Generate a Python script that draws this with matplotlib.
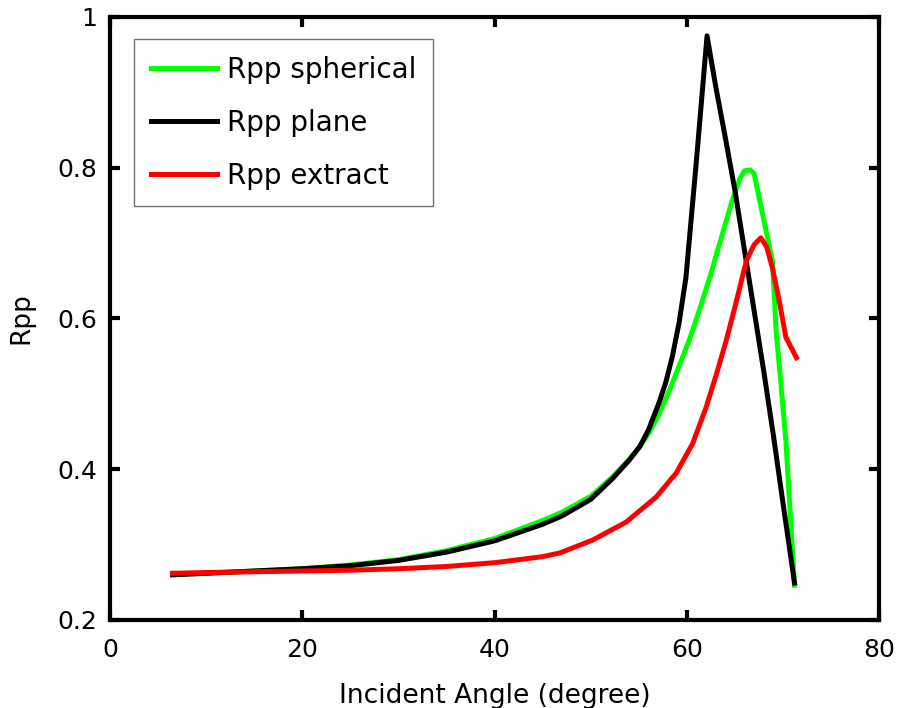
import numpy as np
import matplotlib.pyplot as plt

# datos
ang_plane = [6.5, 10, 15, 20, 25, 30, 35, 40, 45, 47, 50, 52.3, 54, 55.1, 56, 57.1, 57.8, 58.5,
             59.2, 59.9, 61, 62.1, 63, 64, 65, 66, 67, 68, 69, 70, 71.2]
rpp_plane = [0.26, 0.262, 0.265, 0.268, 0.272, 0.279, 0.29, 0.305, 0.327, 0.338, 0.36, 0.388,
             0.412, 0.43, 0.452, 0.488, 0.515, 0.55, 0.595, 0.654, 0.81, 0.975,
             0.908, 0.84, 0.77, 0.69, 0.61, 0.53, 0.445, 0.355, 0.249]

ang_sph = [6.5, 10, 15, 20, 25, 30, 35, 40, 45, 47, 50, 52.3, 54, 55.1, 56, 57, 58.2, 59.2, 60.3,
           61.3, 62.4, 63.4, 64.7, 65.5, 66.0, 66.6, 67.0, 67.8, 68.9, 69.3, 69.6, 70.3, 71.2]
rpp_sph = [0.26, 0.262, 0.265, 0.268, 0.273, 0.28, 0.292, 0.308, 0.332, 0.343, 0.364, 0.39,
           0.413, 0.43, 0.447, 0.47, 0.505, 0.537, 0.573, 0.611, 0.655, 0.699, 0.756, 0.785,
           0.796, 0.797, 0.792, 0.743, 0.677, 0.58, 0.54, 0.438, 0.246]

ang_ext = [6.5, 10, 15, 20, 25, 30, 35, 40, 45, 46.8, 50.2, 53.7, 56.8, 58.9, 60.6, 62.0, 63.1,
           64.1, 65.1, 66.2, 67.0, 67.7, 68.3, 68.9, 69.6, 70.3, 71.4]
rpp_ext = [0.262, 0.263, 0.264, 0.265, 0.266, 0.268, 0.271, 0.276, 0.284, 0.289, 0.306, 0.33,
           0.363, 0.395, 0.434, 0.482, 0.527, 0.571, 0.62, 0.677, 0.698, 0.707, 0.695,
           0.667, 0.624, 0.575, 0.548]

fig = plt.figure(figsize=(8.98, 7.08), dpi=100)
ax = fig.add_axes([0.1225, 0.1243, 0.8565, 0.8517])

ax.plot(ang_sph, rpp_sph, color="#00ff00", linewidth=3.6, label="Rpp spherical")
ax.plot(ang_plane, rpp_plane, color="black", linewidth=3.6, label="Rpp plane")
ax.plot(ang_ext, rpp_ext, color="red", linewidth=3.6, label="Rpp extract")

ax.set_xlim(0, 80)
ax.set_ylim(0.2, 1.0)
ax.set_xticks([0, 20, 40, 60, 80])
ax.set_yticks([0.2, 0.4, 0.6, 0.8, 1.0])
ax.set_yticklabels(["0.2", "0.4", "0.6", "0.8", "1"])
ax.tick_params(direction="in", length=7, width=3, labelsize=18, top=True, right=True)
ax.tick_params(axis="x", pad=13)
ax.tick_params(axis="y", pad=9)
for s in ax.spines.values():
    s.set_linewidth(3)

ax.set_xlabel("Incident Angle (degree)", fontsize=19, labelpad=15)
ax.set_ylabel("Rpp", fontsize=19, labelpad=17)

leg = ax.legend(loc="upper left", fontsize=20, frameon=True, fancybox=False,
                handlelength=2.4, handletextpad=0.35, borderpad=0.6, labelspacing=0.9,
                borderaxespad=0, bbox_to_anchor=(0.031, 0.9635))
leg.get_frame().set_edgecolor("0.3")
leg.get_frame().set_linewidth(1)

fig.savefig("out.png", dpi=100)
